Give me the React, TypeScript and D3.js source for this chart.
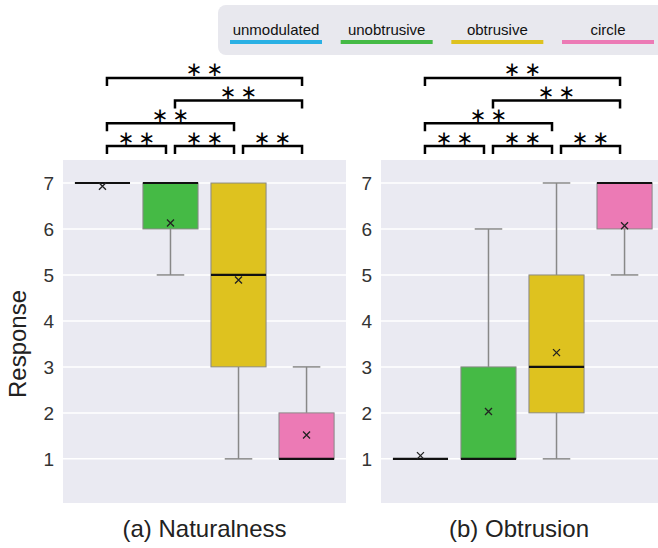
import React, { useEffect, useRef } from "react";
import * as d3 from "d3";

const categories = ["unmodulated", "unobtrusive", "obtrusive", "circle"];
const colors = ["#2AB0E4", "#45BA45", "#DEC21F", "#EC7AB5"];
const panelTitles = ["(a) Naturalness", "(b) Obtrusion"];
const yTicks = [1, 2, 3, 4, 5, 6, 7];

// box stats per category: whisker low, q1, median, q3, whisker high, mean
const naturalness = [
  { lo: 7, q1: 7, med: 7, q3: 7, hi: 7, mean: 6.93 },
  { lo: 5, q1: 6, med: 7, q3: 7, hi: 7, mean: 6.13 },
  { lo: 1, q1: 3, med: 5, q3: 7, hi: 7, mean: 4.89 },
  { lo: 1, q1: 1, med: 1, q3: 2, hi: 3, mean: 1.52 },
];
const obtrusion = [
  { lo: 1, q1: 1, med: 1, q3: 1, hi: 1, mean: 1.07 },
  { lo: 1, q1: 1, med: 1, q3: 3, hi: 6, mean: 2.03 },
  { lo: 1, q1: 2, med: 3, q3: 5, hi: 7, mean: 3.31 },
  { lo: 5, q1: 6, med: 7, q3: 7, hi: 7, mean: 6.07 },
];
// significance brackets: [from, to, level]
const comparisons = [
  [0, 1, 0],
  [1, 2, 0],
  [2, 3, 0],
  [0, 2, 1],
  [1, 3, 2],
  [0, 3, 3],
];

const W = 658;
const H = 548;
const FONT = "'Liberation Sans', Arial, sans-serif";

const App = () => {
  const svgRef = useRef<SVGSVGElement>(null);

  useEffect(() => {
    const svg = d3.select(svgRef.current);
    svg.selectAll("*").remove();

    const top = 160;
    const bottom = 503;
    const panelW = 283;
    const y = d3.scaleLinear().domain([0.04, 7.5]).range([bottom, top]);

    // legend
    const lg = svg.append("g");
    lg.append("rect")
      .attr("x", 218)
      .attr("y", 5)
      .attr("width", 460)
      .attr("height", 50)
      .attr("rx", 8)
      .attr("fill", "#E8E8EE");
    const lx = d3.scalePoint().domain(categories).range([276, 608]);
    categories.forEach((c, i) => {
      lg.append("text")
        .attr("x", lx(c)!)
        .attr("y", 35)
        .attr("text-anchor", "middle")
        .style("font-family", FONT)
        .style("font-size", "15px")
        .style("fill", "#111")
        .text(c);
      lg.append("line")
        .attr("x1", lx(c)! - 46)
        .attr("x2", lx(c)! + 46)
        .attr("y1", 42)
        .attr("y2", 42)
        .attr("stroke", colors[i])
        .attr("stroke-width", 4);
    });

    const drawPanel = (data: typeof naturalness, x0: number, title: string, titleX: number) => {
      const g = svg.append("g");
      const x = d3
        .scaleBand()
        .domain(categories)
        .range([x0, x0 + panelW])
        .paddingInner(0)
        .paddingOuter(0.08);
      const bw = x.bandwidth() * 0.81;
      const cx = (c: string) => x(c)! + x.bandwidth() / 2;

      g.append("rect")
        .attr("x", x0)
        .attr("y", top)
        .attr("width", panelW)
        .attr("height", bottom - top)
        .attr("fill", "#EAEAF2");

      g.selectAll(".grid")
        .data(yTicks)
        .enter()
        .append("line")
        .attr("x1", x0)
        .attr("x2", x0 + panelW)
        .attr("y1", (d) => y(d))
        .attr("y2", (d) => y(d))
        .attr("stroke", "#fff")
        .attr("stroke-width", 1.5);

      g.selectAll(".tick")
        .data(yTicks)
        .enter()
        .append("text")
        .attr("x", x0 - 9)
        .attr("y", (d) => y(d))
        .attr("dy", "0.36em")
        .attr("text-anchor", "end")
        .style("font-family", FONT)
        .style("font-size", "19px")
        .style("fill", "#333")
        .text((d) => d);

      data.forEach((d, i) => {
        const c = categories[i];
        const m = cx(c);
        // whiskers
        [
          [d.lo, d.q1],
          [d.q3, d.hi],
        ].forEach(([a, b]) => {
          if (a === b) return;
          g.append("line")
            .attr("x1", m)
            .attr("x2", m)
            .attr("y1", y(a))
            .attr("y2", y(b))
            .attr("stroke", "#888")
            .attr("stroke-width", 1.5);
        });
        [d.lo, d.hi].forEach((v) => {
          if (v === d.q1 || v === d.q3) return;
          g.append("line")
            .attr("x1", m - bw / 4)
            .attr("x2", m + bw / 4)
            .attr("y1", y(v))
            .attr("y2", y(v))
            .attr("stroke", "#888")
            .attr("stroke-width", 1.5);
        });
        g.append("rect")
          .attr("x", m - bw / 2)
          .attr("y", y(d.q3))
          .attr("width", bw)
          .attr("height", y(d.q1) - y(d.q3))
          .attr("fill", colors[i])
          .attr("stroke", "#888")
          .attr("stroke-width", 1);
        g.append("line")
          .attr("x1", m - bw / 2)
          .attr("x2", m + bw / 2)
          .attr("y1", y(d.med))
          .attr("y2", y(d.med))
          .attr("stroke", "#111")
          .attr("stroke-width", 2.2);
        const my = y(d.mean);
        const s = 3.5;
        g.append("path")
          .attr("d", `M${m - s},${my - s}L${m + s},${my + s}M${m - s},${my + s}L${m + s},${my - s}`)
          .attr("stroke", "#222")
          .attr("stroke-width", 1.3);
      });

      // significance brackets
      const levelY = (l: number) => 146 - l * 22.7;
      comparisons.forEach(([a, b, l]) => {
        const xa = cx(categories[a]) + 4.5;
        const xb = cx(categories[b]) - 4.5;
        const ly = levelY(l);
        g.append("path")
          .attr("d", `M${xa},${ly + 8}V${ly}H${xb}V${ly + 8}`)
          .attr("fill", "none")
          .attr("stroke", "#000")
          .attr("stroke-width", 2.5);
        g.append("text")
          .attr("x", (xa + xb) / 2 + 2)
          .attr("y", ly - 1.5)
          .attr("text-anchor", "middle")
          .style("font-family", "'DejaVu Sans', sans-serif")
          .style("font-size", "20px")
          .style("letter-spacing", "4px")
          .style("fill", "#000")
          .text("\u2217\u2217");
      });

      g.append("text")
        .attr("x", titleX)
        .attr("y", 537)
        .attr("text-anchor", "middle")
        .style("font-family", FONT)
        .style("font-size", "24px")
        .style("fill", "#222")
        .text(title);
    };

    drawPanel(naturalness, 63, panelTitles[0], 204.5);
    drawPanel(obtrusion, 381, panelTitles[1], 519);

    svg.append("text")
      .attr("transform", "rotate(-90)")
      .attr("x", -344)
      .attr("y", 26)
      .attr("text-anchor", "middle")
      .style("font-family", FONT)
      .style("font-size", "24px")
      .style("fill", "#222")
      .text("Response");
  }, []);

  return (
    <svg
      ref={svgRef}
      width={W}
      height={H}
      style={{ position: "absolute", left: 0, top: 0, background: "#fff" }}
    />
  );
};

export default App;
